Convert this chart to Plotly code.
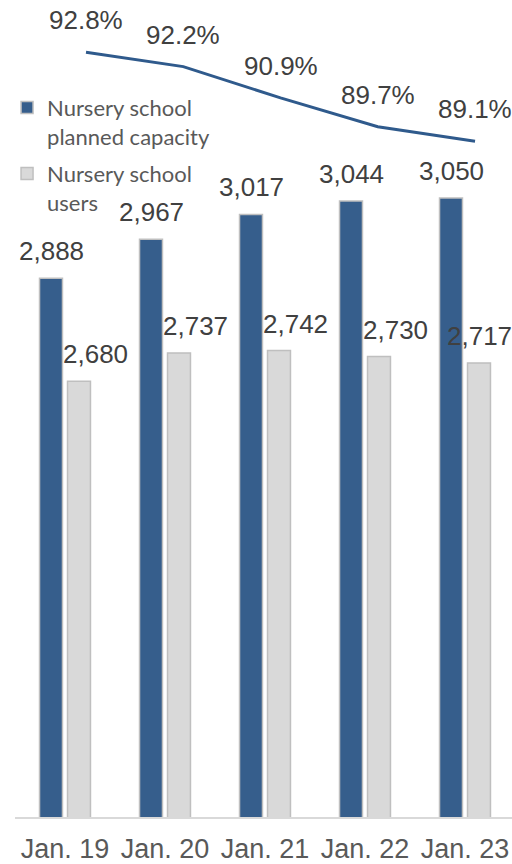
import plotly.graph_objects as go

# Chart data
periods = ["Jan. 19", "Jan. 20", "Jan. 21", "Jan. 22", "Jan. 23"]
planned_capacity = [2888, 2967, 3017, 3044, 3050]
users = [2680, 2737, 2742, 2730, 2717]
utilization_pct = [92.8, 92.2, 90.9, 89.7, 89.1]

BLUE = "#365E8C"
LIGHT = "#D9D9D9"
EDGE = "#BFBFBF"
TEXT = "#404040"
NUM_FONT = "Liberation Sans, Arial, sans-serif"

fig = go.Figure()

fig.add_trace(go.Bar(
    x=periods, y=planned_capacity, name="Nursery school<br>planned capacity",
    marker=dict(color=BLUE, line=dict(color=EDGE, width=1.5)),
    legendgroup="capacity", xaxis="x", yaxis="y",
))
fig.add_trace(go.Bar(
    x=periods, y=users, name="Nursery school<br>users",
    marker=dict(color=LIGHT, line=dict(color=EDGE, width=1.5)),
    legendgroup="users", xaxis="x", yaxis="y",
))
fig.add_trace(go.Scatter(
    x=list(range(len(periods))), y=utilization_pct, mode="lines",
    line=dict(color="#2F5A8C", width=3), showlegend=False,
    xaxis="x2", yaxis="y2",
))

annotations = []
# value labels above the capacity bars
for i, v in enumerate(planned_capacity):
    annotations.append(dict(
        x=periods[i], y=v, xref="x", yref="y", text=f"{v:,}",
        showarrow=False, yanchor="bottom", xanchor="center",
        xshift=-14, yshift=10, font=dict(size=26, color=TEXT, family=NUM_FONT),
    ))
# value labels above the user bars (nudged right, except the last)
user_dx = [30, 30, 30, 30, 14]
for i, v in enumerate(users):
    annotations.append(dict(
        x=periods[i], y=v, xref="x", yref="y", text=f"{v:,}",
        showarrow=False, yanchor="bottom", xanchor="center",
        xshift=user_dx[i], yshift=10, font=dict(size=26, color=TEXT, family=NUM_FONT),
    ))
# percentage labels above the line
for i, p in enumerate(utilization_pct):
    annotations.append(dict(
        x=i, y=p, xref="x2", yref="y2", text=f"{p:.1f}%",
        showarrow=False, yanchor="middle", xanchor="center",
        yshift=32, font=dict(size=26, color=TEXT, family=NUM_FONT),
    ))

fig.update_layout(
    width=512, height=864,
    margin=dict(l=15, r=0, t=0, b=44),
    paper_bgcolor="white", plot_bgcolor="white",
    barmode="group", bargap=0.44, bargroupgap=0.18,
    xaxis=dict(
        range=[-0.5, 4.47], showgrid=False, zeroline=False,
        showline=True, linecolor="#D9D9D9", linewidth=2,
        ticks="", ticklabelstandoff=7,
        tickfont=dict(size=27, color="#595959", family=NUM_FONT),
    ),
    yaxis=dict(range=[1800, 3450], visible=False),
    xaxis2=dict(range=[-0.73, 4.38], overlaying="x", visible=False),
    yaxis2=dict(range=[61.0, 94.97], overlaying="y", visible=False),
    legend=dict(
        x=-0.016, y=0.894, xanchor="left", yanchor="top",
        font=dict(size=22, color="#595959", family="Lato, sans-serif"),
        valign="top", traceorder="grouped", tracegroupgap=6,
        bgcolor="rgba(0,0,0,0)",
    ),
    annotations=annotations,
    showlegend=True,
)

fig.write_html("out.html")
